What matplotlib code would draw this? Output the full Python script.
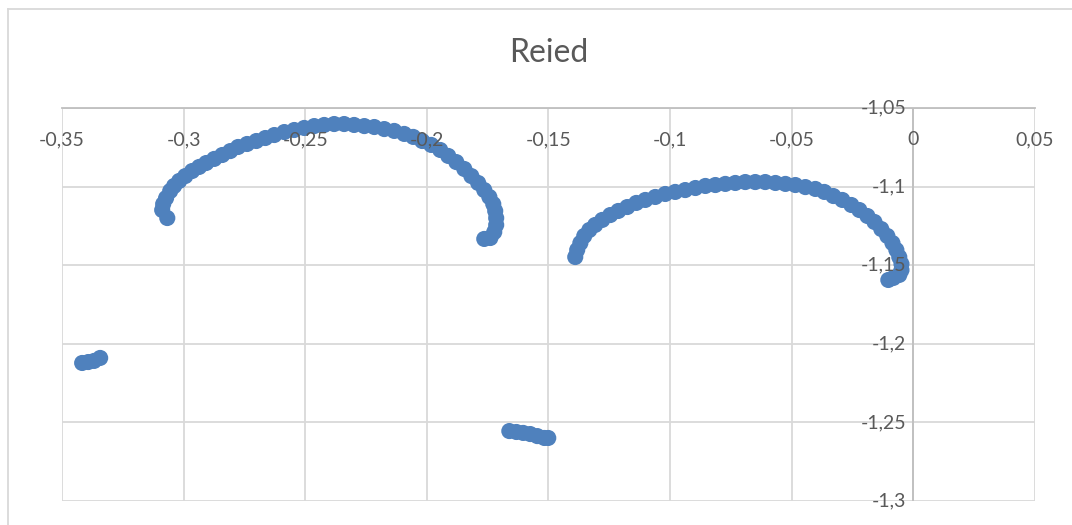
import matplotlib
matplotlib.use("Agg")
import matplotlib.pyplot as plt
from matplotlib.lines import Line2D
from matplotlib.transforms import offset_copy

plt.rcParams['font.family'] = ['Lato', 'DejaVu Sans']

title = "Reied"

# first arc (left)
arc1_x = [-0.3067, -0.3088, -0.3084, -0.3072, -0.3055, -0.3039, -0.3018, -0.2993, -0.2965, -0.2936,
          -0.2907, -0.2874, -0.2841, -0.2808, -0.2776, -0.2739, -0.2701, -0.2664, -0.2627, -0.2586,
          -0.2545, -0.2504, -0.2463, -0.2422, -0.2381, -0.2340, -0.2299, -0.2257, -0.2216, -0.2175,
          -0.2134, -0.2093, -0.2056, -0.2019, -0.1982, -0.1945, -0.1912, -0.1879, -0.1846, -0.1817,
          -0.1789, -0.1764, -0.1743, -0.1727, -0.1719, -0.1715, -0.1715, -0.1723, -0.1739, -0.1764]
arc1_y = [-1.1200, -1.1149, -1.1111, -1.1073, -1.1028, -1.0996, -1.0964, -1.0933, -1.0901, -1.0875,
          -1.0850, -1.0824, -1.0799, -1.0774, -1.0748, -1.0729, -1.0710, -1.0691, -1.0672, -1.0653,
          -1.0640, -1.0627, -1.0615, -1.0608, -1.0602, -1.0602, -1.0608, -1.0615, -1.0621, -1.0634,
          -1.0646, -1.0665, -1.0684, -1.0710, -1.0735, -1.0767, -1.0805, -1.0844, -1.0888, -1.0933,
          -1.0977, -1.1022, -1.1066, -1.1111, -1.1155, -1.1200, -1.1244, -1.1289, -1.1327, -1.1333]

# second arc (right)
arc2_x = [-0.1390, -0.1382, -0.1369, -0.1353, -0.1332, -0.1308, -0.1279, -0.1246, -0.1213, -0.1176,
          -0.1139, -0.1102, -0.1061, -0.1020, -0.0979, -0.0938, -0.0896, -0.0855, -0.0814, -0.0773,
          -0.0732, -0.0691, -0.0650, -0.0609, -0.0567, -0.0526, -0.0485, -0.0444, -0.0403, -0.0366,
          -0.0329, -0.0292, -0.0255, -0.0222, -0.0189, -0.0160, -0.0132, -0.0107, -0.0086, -0.0070,
          -0.0058, -0.0049, -0.0049, -0.0058, -0.0082, -0.0103]
arc2_y = [-1.1448, -1.1403, -1.1359, -1.1314, -1.1276, -1.1244, -1.1212, -1.1181, -1.1155, -1.1130,
          -1.1104, -1.1085, -1.1066, -1.1047, -1.1034, -1.1022, -1.1009, -1.0996, -1.0990, -1.0983,
          -1.0977, -1.0971, -1.0971, -1.0971, -1.0977, -1.0983, -1.0990, -1.1003, -1.1015, -1.1034,
          -1.1060, -1.1085, -1.1117, -1.1149, -1.1187, -1.1225, -1.1270, -1.1314, -1.1359, -1.1403,
          -1.1448, -1.1492, -1.1531, -1.1562, -1.1581, -1.1594]

# small clusters
clusterA_x = [-0.3417, -0.3392, -0.3368, -0.3343]
clusterA_y = [-1.2122, -1.2116, -1.2109, -1.2090]
clusterB_x = [-0.1661, -0.1632, -0.1604, -0.1575, -0.1546, -0.1517, -0.1501]
clusterB_y = [-1.2555, -1.2561, -1.2567, -1.2574, -1.2587, -1.2599, -1.2599]

x_ticks = [-0.35, -0.30, -0.25, -0.20, -0.15, -0.10, -0.05, 0.0, 0.05]
y_ticks = [-1.05, -1.10, -1.15, -1.20, -1.25, -1.30]


def fmt(v):
    s = f"{v:.2f}".rstrip('0').rstrip('.')
    if s in ("-0", ""):
        s = "0"
    return s.replace('.', ',')


blue = '#4F81BD'
txt = '#595959'
grid = '#d9d9d9'
axis_c = '#bfbfbf'

fig = plt.figure(figsize=(10.72, 5.25), dpi=100)
ax = fig.add_axes([0.0578, 0.0457, 0.9077, 0.7486])

xs = arc1_x + arc2_x + clusterA_x + clusterB_x
ys = arc1_y + arc2_y + clusterA_y + clusterB_y
ax.scatter(xs, ys, s=135, color=blue, edgecolors='none', zorder=3)

ax.set_xlim(-0.35, 0.05)
ax.set_ylim(-1.30, -1.05)
ax.set_xticks(x_ticks)
ax.set_yticks(y_ticks)
ax.tick_params(length=0, labelbottom=False, labelleft=False)
ax.grid(True, color=grid, linewidth=1.3, zorder=0)
ax.set_axisbelow(True)
for side in ('left', 'right', 'bottom'):
    ax.spines[side].set_visible(False)
ax.spines['top'].set_color(axis_c)
ax.spines['top'].set_linewidth(1.3)
ax.axvline(0, color=axis_c, linewidth=1.3, zorder=1)

# axis labels sit next to the crossing axes
xlab_tr = offset_copy(ax.transData, fig=fig, x=0, y=-32, units='dots')
for v in x_ticks:
    ax.text(v, -1.05, fmt(v), transform=xlab_tr, ha='center', va='center',
            fontsize=14, color=txt, zorder=5)
ylab_tr = offset_copy(ax.transData, fig=fig, x=-7, y=0, units='dots')
for v in y_ticks:
    ax.text(0, v, fmt(v), transform=ylab_tr, ha='right', va='center',
            fontsize=14, color=txt, zorder=5)

fig.text(549 / 1072, 1 - 53 / 525, title, ha='center', va='center',
         fontsize=23, color=txt)

# chart area border
fig.add_artist(Line2D([8 / 1072, 8 / 1072], [0, 1 - 9 / 525], color=grid, linewidth=1.3))
fig.add_artist(Line2D([8 / 1072, 1], [1 - 9 / 525, 1 - 9 / 525], color=grid, linewidth=1.3))

fig.savefig('out.png', dpi=100)
